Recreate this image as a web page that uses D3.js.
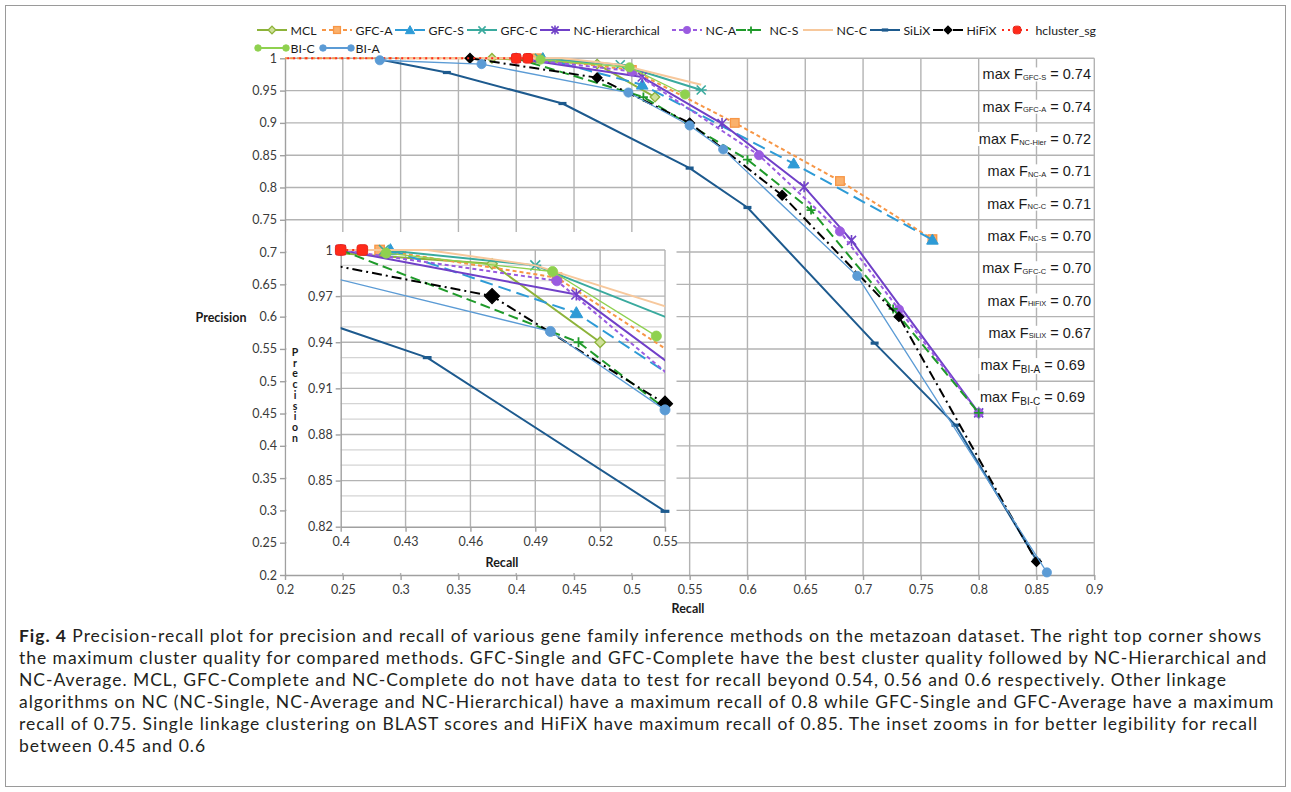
<!DOCTYPE html>
<html>
<head>
<meta charset="utf-8">
<script src="https://cdn.jsdelivr.net/npm/d3@7"></script>
<style>
  body { margin: 0; background: #fff; }
  svg { display: block; }
</style>
</head>
<body>
<svg id="chart" width="1291" height="792"></svg>
<script>
// Precision-recall points, [recall, precision]
const mcl      = [[0.379,1.0],[0.47,0.991],[0.52,0.94]];
const gfcA     = [[0.15,1.0],[0.418,1.0],[0.5,0.982],[0.589,0.9],[0.68,0.81],[0.76,0.72]];
const gfcS     = [[0.423,1.0],[0.509,0.959],[0.64,0.837],[0.76,0.719]];
const gfcC     = [[0.42,1.0],[0.49,0.99],[0.56,0.951]];
const ncHier   = [[0.4,1.0],[0.509,0.971],[0.578,0.899],[0.649,0.801],[0.69,0.718],[0.8,0.451]];
const ncA      = [[0.4,1.0],[0.5,0.98],[0.61,0.85],[0.68,0.732],[0.731,0.611],[0.8,0.451]];
const ncS      = [[0.4,1.0],[0.51,0.94],[0.6,0.843],[0.655,0.765],[0.726,0.612],[0.8,0.451]];
const ncC      = [[0.3,1.0],[0.44,1.0],[0.49,0.99],[0.56,0.959]];
const silix    = [[0.282,0.998],[0.34,0.978],[0.44,0.93],[0.55,0.83],[0.6,0.769],[0.71,0.559],[0.78,0.432],[0.85,0.223]];
const hifix    = [[0.36,1.0],[0.47,0.97],[0.55,0.9],[0.63,0.788],[0.731,0.6],[0.85,0.221]];
const hcluster = [[0.15,1.0],[0.4,1.0],[0.41,1.0]];
const biC      = [[0.421,0.998],[0.498,0.986],[0.546,0.944]];
const biA      = [[0.282,0.997],[0.37,0.991],[0.497,0.947],[0.55,0.896],[0.579,0.859],[0.695,0.663],[0.859,0.204]];

// max F table (top right)
const fLabels = ["GFC-S","GFC-A","NC-Hier","NC-A","NC-C","NC-S","GFC-C","HiFiX","SiLiX","BI-A","BI-C"];
const fValues = [0.74,0.74,0.72,0.71,0.71,0.70,0.70,0.70,0.67,0.69,0.69];

// axes
const recallTicks    = [0.2,0.25,0.3,0.35,0.4,0.45,0.5,0.55,0.6,0.65,0.7,0.75,0.8,0.85,0.9];
const precisionTicks = [0.2,0.25,0.3,0.35,0.4,0.45,0.5,0.55,0.6,0.65,0.7,0.75,0.8,0.85,0.9,0.95,1];
const insetRecallTicks    = [0.4,0.43,0.46,0.49,0.52,0.55];
const insetPrecisionTicks = [0.82,0.85,0.88,0.91,0.94,0.97,1];
const insetMinorTicks     = [0.83,0.84,0.86,0.87,0.89,0.9,0.92,0.93,0.95,0.96,0.98,0.99];

const captionLines = [
  "Precision-recall plot for precision and recall of various gene family inference methods on the metazoan dataset. The right top corner shows",
  "the maximum cluster quality for compared methods. GFC-Single and GFC-Complete have the best cluster quality followed by NC-Hierarchical and",
  "NC-Average. MCL, GFC-Complete and NC-Complete do not have data to test for recall beyond 0.54, 0.56 and 0.6 respectively. Other linkage",
  "algorithms on NC (NC-Single, NC-Average and NC-Hierarchical) have a maximum recall of 0.8 while GFC-Single and GFC-Average have a maximum",
  "recall of 0.75. Single linkage clustering on BLAST scores and HiFiX have maximum recall of 0.85. The inset zooms in for better legibility for recall",
  "between 0.45 and 0.6"
];

const series = [
  {name:"MCL",             data:mcl,      color:"#8db33a", width:2,   dash:null,       marker:"diamond",  fill:"#cfe09a"},
  {name:"GFC-A",           data:gfcA,     color:"#f79646", width:2,   dash:"4,3",      marker:"square",   fill:"#fab16d"},
  {name:"GFC-S",           data:gfcS,     color:"#2e9bd6", width:2,   dash:"13,6",     marker:"triangle"},
  {name:"GFC-C",           data:gfcC,     color:"#3aaa9e", width:2,   dash:null,       marker:"cross"},
  {name:"NC-Hierarchical", data:ncHier,   color:"#7040c8", width:2,   dash:null,       marker:"star"},
  {name:"NC-A",            data:ncA,      color:"#9a5be0", width:2,   dash:"4,3",      marker:"circle"},
  {name:"NC-S",            data:ncS,      color:"#1f9a2a", width:2,   dash:"10,5",     marker:"plus"},
  {name:"NC-C",            data:ncC,      color:"#f7c89c", width:2,   dash:null,       marker:null},
  {name:"SiLiX",           data:silix,    color:"#1d5a8e", width:2,   dash:null,       marker:"dash"},
  {name:"HiFiX",           data:hifix,    color:"#000000", width:2,   dash:"10,4,2,4", marker:"diamond"},
  {name:"hcluster_sg",     data:hcluster, color:"#ff2a1a", width:2,   dash:"2,4",      marker:"blob"},
  {name:"BI-C",            data:biC,      color:"#8fd14f", width:1.3, dash:null,       marker:"circle"},
  {name:"BI-A",            data:biA,      color:"#5b9bd5", width:1.3, dash:null,       marker:"circle"}
];
// legend slots (x of line start, row centre)
const legendPos = [[257,30],[322,30],[395,30],[467,30],[540,30],[672,30],[736,30],[803,30],[870,30],[933,30],[1002,30],[257,48],[322,48]];

const svg = d3.select("#chart");
const FONT = "Lato, 'Open Sans', sans-serif";
const GRID = "#b3b3b3";

// figure frame
svg.append("rect").attr("x",5.5).attr("y",5.5).attr("width",1280).attr("height",781)
  .attr("fill","none").attr("stroke","#9a9a9a");

// ---------- main plot ----------
const x = d3.scaleLinear().domain([0.2,0.9]).range([285,1094.3]);
const y = d3.scaleLinear().domain([0.2,1]).range([575,58.3]);

const grid = svg.append("g");
grid.selectAll("line.v").data(recallTicks.slice(1)).join("line")
  .attr("x1",d=>x(d)).attr("x2",d=>x(d)).attr("y1",y(0.2)).attr("y2",y(1))
  .attr("stroke",GRID).attr("stroke-width",1.4);
grid.selectAll("line.h").data(precisionTicks.slice(1)).join("line")
  .attr("x1",x(0.2)).attr("x2",x(0.9)).attr("y1",d=>y(d)).attr("y2",d=>y(d))
  .attr("stroke",GRID).attr("stroke-width",1.4);

function styleAxis(g) {
  g.select(".domain").attr("stroke","#a0a0a0").attr("stroke-width",1.4);
  g.selectAll(".tick line").attr("stroke","#a0a0a0").attr("stroke-width",1.4);
  g.selectAll(".tick text").attr("fill","#3a3a3a").style("font-family",FONT).style("font-size","12.5px");
}
const fmt = d => String(+d.toFixed(2));
svg.append("g").attr("transform",`translate(0,${y(0.2)})`)
  .call(d3.axisBottom(x).tickValues(recallTicks).tickSize(5).tickPadding(5).tickFormat(fmt).tickSizeOuter(0))
  .call(styleAxis);
svg.append("g").attr("transform",`translate(${x(0.2)},0)`)
  .call(d3.axisLeft(y).tickValues(precisionTicks).tickSize(5).tickPadding(3).tickFormat(fmt).tickSizeOuter(0))
  .call(styleAxis);

function drawMarker(g, s, px, py, k) {
  const c = s.color;
  switch (s.marker) {
    case "circle":
      g.append("circle").attr("cx",px).attr("cy",py).attr("r",4.6*k).attr("fill",c).attr("stroke",c).attr("stroke-width",0.8);
      break;
    case "square":
      g.append("rect").attr("x",px-4.3*k).attr("y",py-4.3*k).attr("width",8.6*k).attr("height",8.6*k)
        .attr("fill",s.fill).attr("stroke",c).attr("stroke-width",1.3);
      break;
    case "diamond":
      g.append("path").attr("d",d3.symbol(d3.symbolSquare,46*k*k)())
        .attr("transform",`translate(${px},${py}) rotate(45)`)
        .attr("fill",s.fill||c).attr("stroke",c).attr("stroke-width",1.3);
      break;
    case "triangle":
      g.append("path").attr("d",d3.symbol(d3.symbolTriangle,58*k*k)())
        .attr("transform",`translate(${px},${py+1})`).attr("fill",c).attr("stroke",c);
      break;
    case "cross":
    case "star": {
      const r = 4.5*k;
      let p = `M${px-r},${py-r}L${px+r},${py+r}M${px-r},${py+r}L${px+r},${py-r}`;
      if (s.marker === "star") p += `M${px},${py-r-1}L${px},${py+r+1}`;
      else p += `M${px-r-1},${py}L${px+r+1},${py}`;
      g.append("path").attr("d",p).attr("stroke",c).attr("stroke-width",1.6).attr("fill","none");
      break;
    }
    case "plus": {
      const r = 4.5*k;
      g.append("path").attr("d",`M${px-r},${py}L${px+r},${py}M${px},${py-r}L${px},${py+r}`)
        .attr("stroke",c).attr("stroke-width",1.8);
      break;
    }
    case "dash":
      g.append("path").attr("d",`M${px-4*k},${py}L${px+4*k},${py}`).attr("stroke",c).attr("stroke-width",3.2);
      break;
    case "blob":
      g.append("rect").attr("x",px-4.8*k).attr("y",py-4.8*k).attr("width",9.6*k).attr("height",9.6*k)
        .attr("rx",2.5).attr("fill",c).attr("stroke","#e8261a");
      break;
  }
}

function drawSeries(g, s, xs, ys, k, clipId, dom) {
  const line = d3.line().x(d=>xs(d[0])).y(d=>ys(d[1]));
  g.append("path").datum(s.data).attr("d",line)
    .attr("clip-path",`url(#${clipId})`)
    .attr("fill","none").attr("stroke",s.color).attr("stroke-width",s.width)
    .attr("stroke-dasharray",s.dash).attr("stroke-linejoin","round");
  const eps = 0.002;
  s.data.filter(d => d[0] >= dom[0]-eps && d[0] <= dom[1]+eps && d[1] >= dom[2]-eps && d[1] <= dom[3]+eps)
    .forEach(d => drawMarker(g, s, xs(d[0]), ys(d[1]), (s.name === "HiFiX" && k > 1) ? 1.55 : k));
}

const defs = svg.append("defs");
defs.append("clipPath").attr("id","clipMain").append("rect")
  .attr("x",x(0.2)).attr("y",y(1)-3).attr("width",x(0.9)-x(0.2)).attr("height",y(0.2)-y(1)+3);

const mainG = svg.append("g");
series.forEach(s => drawSeries(mainG, s, x, y, 1, "clipMain", [0.2,0.9,0.2,1]));

// ---------- max F table ----------
const tbg = svg.append("g"), ttx = svg.append("g");
fLabels.forEach((lab,i) => {
  const bi = lab.startsWith("BI");
  const t = ttx.append("text").attr("x", bi ? 1085 : 1091).attr("y", y(0.975 - 0.05*i) + 5)
    .attr("text-anchor","end").attr("fill","#1a1a1a")
    .style("font-family","'Liberation Sans', Arial, sans-serif").style("font-size","14.5px");
  t.append("tspan").text("max F");
  t.append("tspan").style("font-size", bi ? "10px" : "7.5px").attr("dy", bi ? 3 : 0.5).text(lab);
  t.append("tspan").attr("dy", bi ? -3 : -0.5).text(" = ");
  t.append("tspan").text(fValues[i].toFixed(2));
  const bb = t.node().getBBox();
  tbg.append("rect").attr("x",bb.x-2).attr("y",bb.y+1).attr("width",bb.width+4).attr("height",bb.height-2).attr("fill","#fff");
});

// ---------- inset ----------
const ix = d3.scaleLinear().domain([0.4,0.55]).range([340.7,665]);
const iy = d3.scaleLinear().domain([0.82,1]).range([526.7,250]);
const inset = svg.append("g");
inset.append("rect").attr("x",286.5).attr("y",232).attr("width",390).attr("height",341).attr("fill","#fff");

inset.selectAll("line.minor").data(insetMinorTicks).join("line")
  .attr("x1",ix(0.4)).attr("x2",ix(0.55)).attr("y1",d=>iy(d)).attr("y2",d=>iy(d))
  .attr("stroke","#d4d4d4").attr("stroke-width",1.2);
inset.selectAll("line.h").data(insetPrecisionTicks.slice(1)).join("line")
  .attr("x1",ix(0.4)).attr("x2",ix(0.55)).attr("y1",d=>iy(d)).attr("y2",d=>iy(d))
  .attr("stroke",GRID).attr("stroke-width",1.4);
inset.selectAll("line.v").data(insetRecallTicks.slice(1)).join("line")
  .attr("x1",d=>ix(d)).attr("x2",d=>ix(d)).attr("y1",iy(0.82)).attr("y2",iy(1))
  .attr("stroke",GRID).attr("stroke-width",1.4);

inset.append("g").attr("transform",`translate(0,${iy(0.82)})`)
  .call(d3.axisBottom(ix).tickValues(insetRecallTicks).tickSize(5).tickPadding(5).tickFormat(fmt).tickSizeOuter(0))
  .call(styleAxis);
inset.append("g").attr("transform",`translate(${ix(0.4)},0)`)
  .call(d3.axisLeft(iy).tickValues(insetPrecisionTicks).tickSize(5).tickPadding(3).tickFormat(fmt).tickSizeOuter(0))
  .call(styleAxis);

defs.append("clipPath").attr("id","clipInset").append("rect")
  .attr("x",ix(0.4)).attr("y",iy(1)-3).attr("width",ix(0.55)-ix(0.4)).attr("height",iy(0.82)-iy(1)+3);
const insetG = inset.append("g");
series.forEach(s => drawSeries(insetG, s, ix, iy, 1.1, "clipInset", [0.4,0.55,0.82,1]));

// axis titles
const bold = g => g.style("font-family",FONT).style("font-weight","bold").attr("fill","#1a1a1a");
svg.append("text").attr("x",221).attr("y",322).attr("text-anchor","middle").style("font-size","12.5px").text("Precision").call(bold);
svg.append("text").attr("x",688).attr("y",613).attr("text-anchor","middle").style("font-size","12.5px").text("Recall").call(bold);
inset.append("text").attr("x",502).attr("y",567).attr("text-anchor","middle").style("font-size","12.5px").text("Recall").call(bold);
// stacked upright letters, one text element
inset.append("text").attr("x",295).attr("y",346)
  .style("writing-mode","vertical-rl").style("text-orientation","upright")
  .style("font-size","10.5px").style("letter-spacing","-1.3px")
  .text("Precision").call(bold);

// ---------- legend ----------
const leg = svg.append("g");
series.forEach((s,i) => {
  const [lx,ly] = legendPos[i];
  leg.append("line").attr("x1",lx).attr("x2",lx+30).attr("y1",ly).attr("y2",ly)
    .attr("stroke",s.color).attr("stroke-width",s.width < 2 ? 2 : s.width).attr("stroke-dasharray",s.dash);
  if (s.marker === "circle" && s.name.startsWith("BI")) {
    drawMarker(leg, s, lx+1, ly, 0.72);
    drawMarker(leg, s, lx+29, ly, 0.72);
  } else if (s.marker) {
    drawMarker(leg, s, lx+15, ly, 0.8);
  }
  leg.append("text").attr("x",lx+33.5).attr("y",ly+4.5).attr("fill","#1a1a1a")
    .style("font-family",FONT).style("font-size","12.3px").text(s.name);
});

// ---------- caption ----------
// size kept so line boxes don't collide; width matched with letter spacing
const cap = svg.append("g").style("font-family","Lato, 'Open Sans', sans-serif")
  .style("font-size","17.5px").attr("fill","#231f20");
const capLines = captionLines.map((ln,i) => {
  const t = cap.append("text").attr("x",19).attr("y",642 + i*22);
  if (i === 0) {
    t.append("tspan").style("font-weight","bold").text("Fig. 4");
    t.append("tspan").text(" " + ln);
  } else {
    t.text(ln);
  }
  return t;
});
const w0 = capLines[0].node().getComputedTextLength();
const nChars = ("Fig. 4 " + captionLines[0]).length;
cap.style("letter-spacing", Math.max(0, (1243 - w0) / nChars).toFixed(3) + "px");
</script>
</body>
</html>
